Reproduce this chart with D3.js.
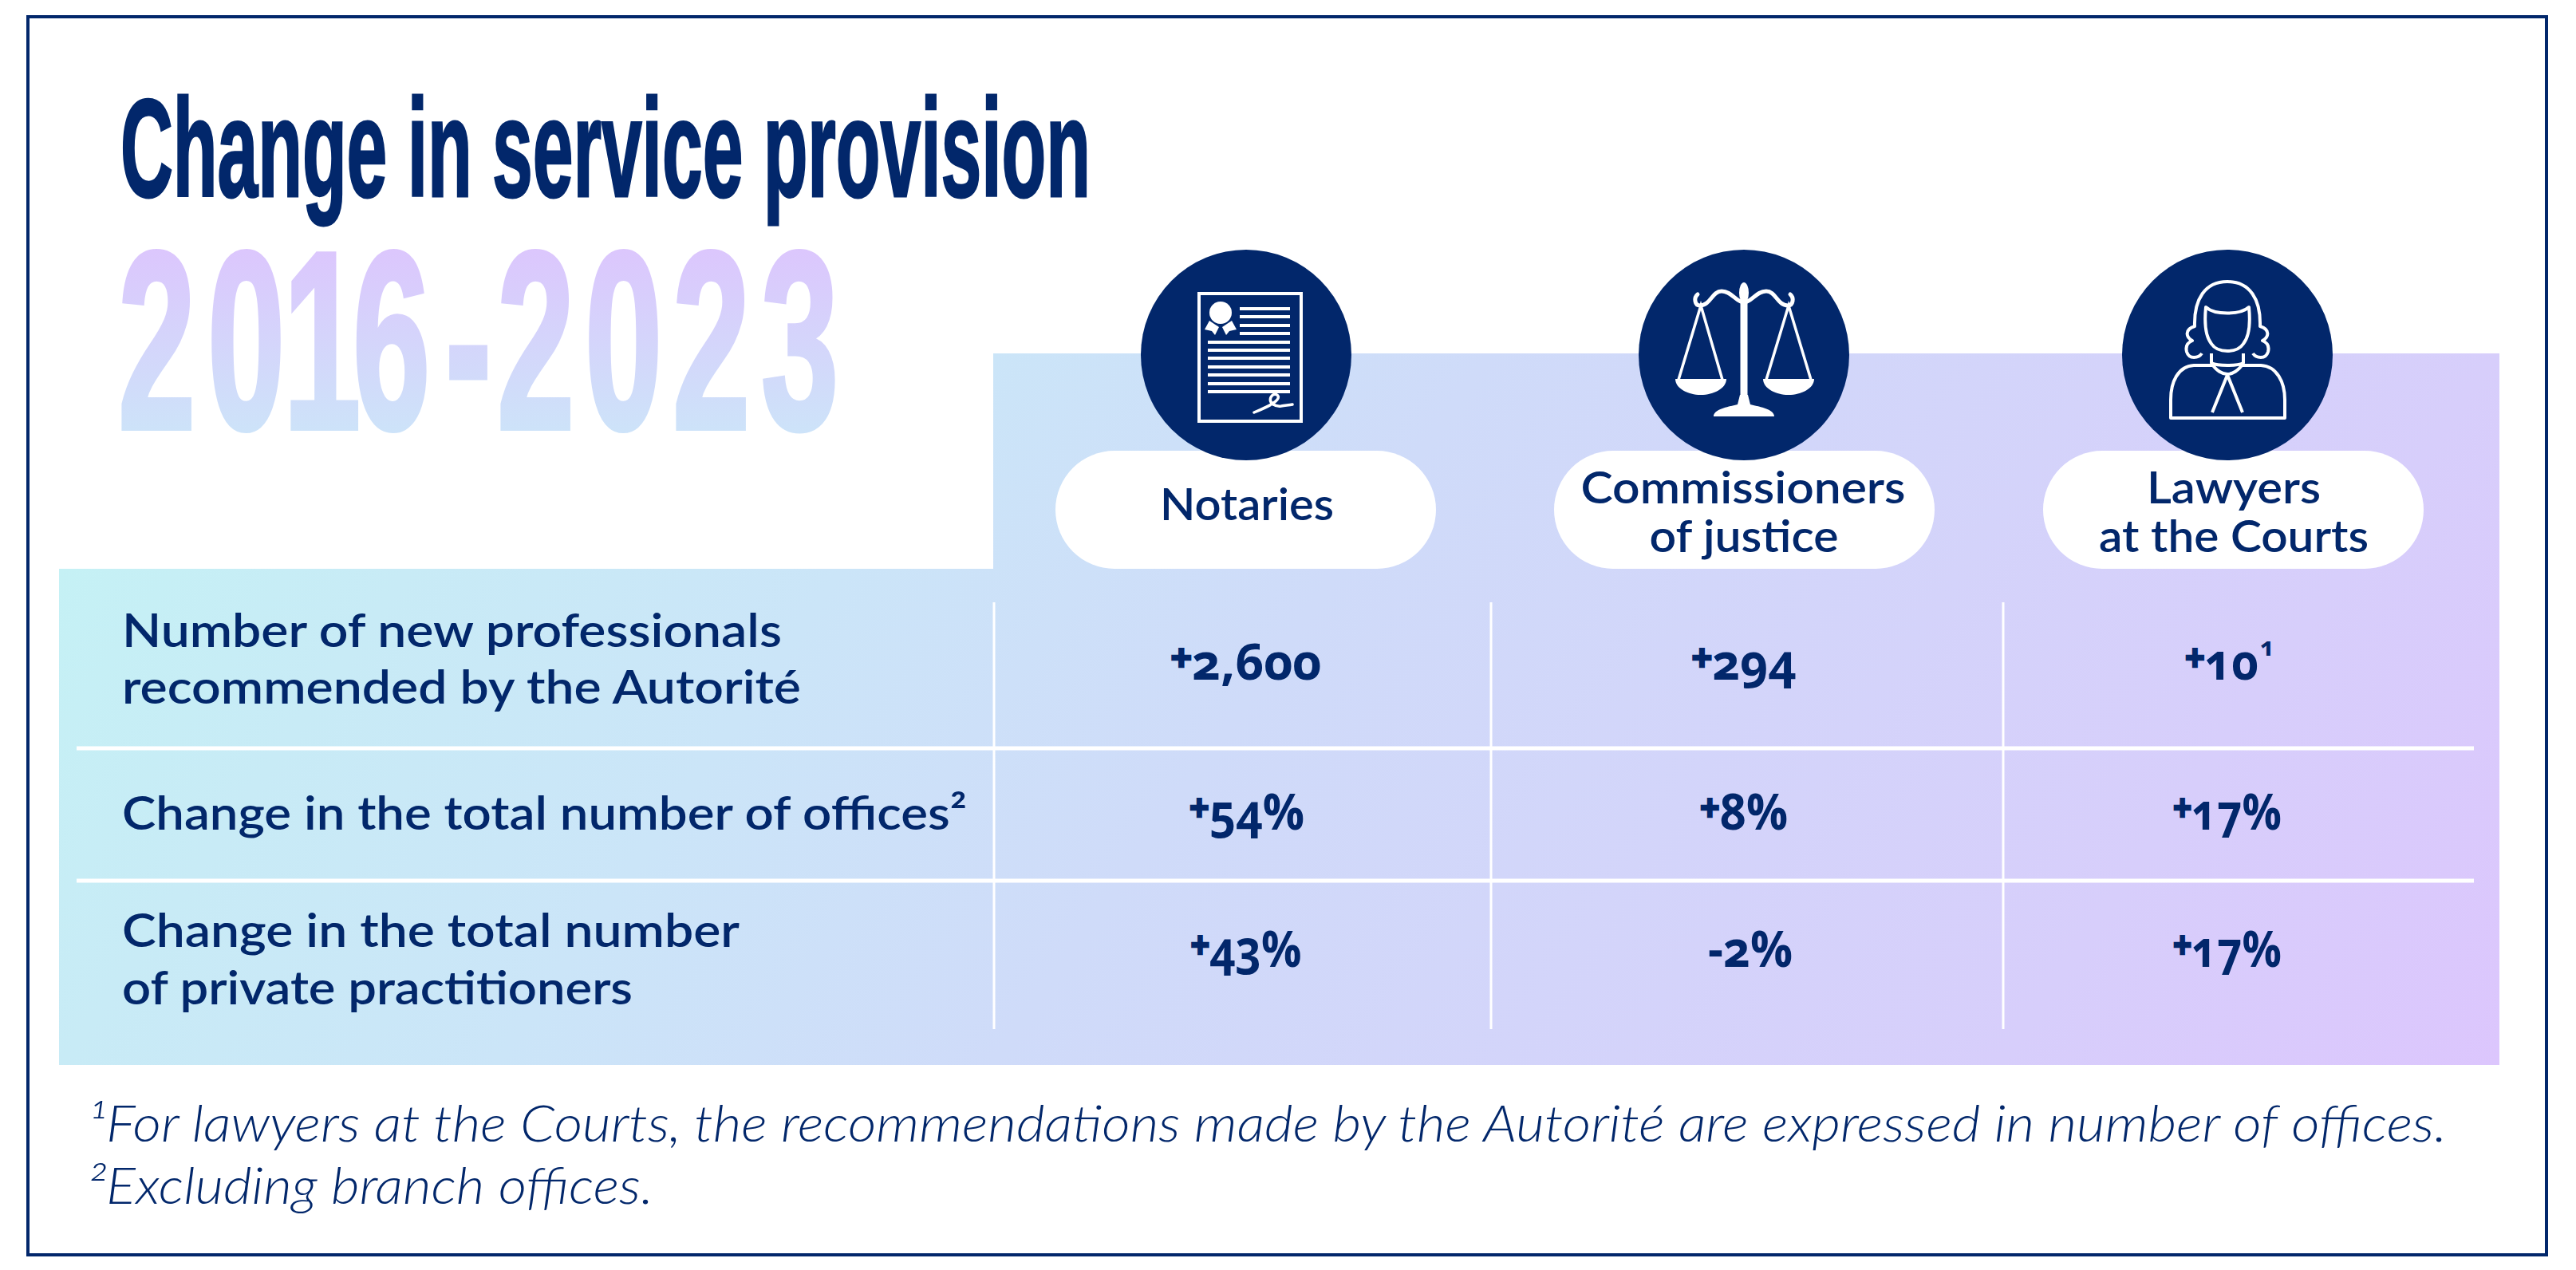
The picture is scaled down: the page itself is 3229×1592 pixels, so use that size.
<!DOCTYPE html>
<html>
<head>
<meta charset="utf-8">
<script src="https://cdn.jsdelivr.net/npm/d3@7"></script>
<style>
  html, body { margin: 0; padding: 0; background: #fff; }
  svg { display: block; }
  .label { font-family: Lato, sans-serif; font-weight: 600; fill: #02276b; }
  .value { font-family: "Open Sans", Lato, sans-serif; font-weight: 700; fill: #02276b; font-feature-settings: "onum" 1; }
  .note { font-family: Lato, sans-serif; font-weight: 300; font-style: italic; fill: #02276b; }
  .head { font-family: "Liberation Sans", sans-serif; font-weight: 700; }
</style>
</head>
<body>
<script>
var titleText = "Change in service provision";
var yearsText = "2016-2023";
var professions = [["Notaries"], ["Commissioners", "of justice"], ["Lawyers", "at the Courts"]];
var measures = [
  ["Number of new professionals", "recommended by the Autorité"],
  ["Change in the total number of offices²"],
  ["Change in the total number", "of private practitioners"]
];
var newProfessionals = ["+2,600", "+294", "+10"];
var officeChange = ["+54%", "+8%", "+17%"];
var practitionerChange = ["+43%", "-2%", "+17%"];
var footnotes = [
  "¹For lawyers at the Courts, the recommendations made by the Autorité are expressed in number of offices.",
  "²Excluding branch offices."
];

var navy = "#02276b";
var width = 3229, height = 1592;

var colX = d3.scaleOrdinal().domain([0, 1, 2]).range([1562, 2186, 2792]);
var rowBase = d3.scaleOrdinal().domain([0, 1, 2]).range([852, 1040, 1212]);

var svg = d3.select("body").append("svg")
  .attr("width", width)
  .attr("height", height);

var defs = svg.append("defs");

var panelGrad = defs.append("linearGradient")
  .attr("id", "panelGrad")
  .attr("gradientUnits", "userSpaceOnUse")
  .attr("x1", 263).attr("y1", 443)
  .attr("x2", 2609).attr("y2", 2085);
panelGrad.selectAll("stop")
  .data([[0, "#c5f1f5"], [0.125, "#c8ebf6"], [0.281, "#cbe5f8"], [0.459, "#cfdbf9"], [0.82, "#d7cefb"], [1, "#dcc6fd"]])
  .enter().append("stop")
    .attr("offset", function(d) { return d[0]; })
    .attr("stop-color", function(d) { return d[1]; });

var yearsGrad = defs.append("linearGradient")
  .attr("id", "yearsGrad")
  .attr("gradientUnits", "userSpaceOnUse")
  .attr("x1", 0).attr("y1", 309)
  .attr("x2", 0).attr("y2", 541);
yearsGrad.selectAll("stop")
  .data([[0, "#dcc6fd"], [1, "#cde3f9"]])
  .enter().append("stop")
    .attr("offset", function(d) { return d[0]; })
    .attr("stop-color", function(d) { return d[1]; });

// frame
svg.append("rect")
  .attr("x", 35).attr("y", 21)
  .attr("width", 3157).attr("height", 1552)
  .attr("fill", "none")
  .attr("stroke", navy)
  .attr("stroke-width", 4);

// heading
function fitted(sel, str, x, y, size, w) {
  return sel.append("text")
    .attr("x", x).attr("y", y)
    .attr("font-size", size)
    .attr("textLength", w)
    .attr("lengthAdjust", "spacingAndGlyphs")
    .text(str);
}

fitted(svg, titleText, 151, 246, 174, 1216)
  .attr("class", "head").attr("fill", navy)
  .attr("stroke", navy).attr("stroke-width", 3);

// years: one text, each glyph placed on its own, squeezed horizontally
var yearsSqueeze = 0.55;
var yearsLeft = [148, 260, 355, 442, 558, 623, 733, 843, 954];
svg.append("text")
  .attr("class", "head")
  .attr("transform", "scale(" + yearsSqueeze + ",1)")
  .attr("x", yearsLeft.map(function(d) { return d / yearsSqueeze; }).join(" "))
  .attr("y", 537)
  .attr("font-size", 318)
  .attr("fill", "url(#yearsGrad)")
  .attr("stroke", "url(#yearsGrad)").attr("stroke-width", 6)
  .text(yearsText);

// gradient panel
svg.append("path")
  .attr("d", "M74 713H1245V443H3133V1335H74Z")
  .attr("fill", "url(#panelGrad)");

// grid
var hLines = [938, 1104], vLines = [1246, 1869, 2511];
svg.selectAll(".hline").data(hLines).enter().append("line")
  .attr("x1", 96).attr("x2", 3101)
  .attr("y1", function(d) { return d; }).attr("y2", function(d) { return d; })
  .attr("stroke", "#fff").attr("stroke-width", 5);
svg.selectAll(".vline").data(vLines).enter().append("line")
  .attr("x1", function(d) { return d; }).attr("x2", function(d) { return d; })
  .attr("y1", 755).attr("y2", 1290)
  .attr("stroke", "#fff").attr("stroke-width", 3);

// pills
var pillLeft = [1323, 1948, 2561];
svg.selectAll(".pill").data(pillLeft).enter().append("rect")
  .attr("x", function(d) { return d; }).attr("y", 565)
  .attr("width", 477).attr("height", 148)
  .attr("rx", 74).attr("ry", 74)
  .attr("fill", "#fff");

// circles
svg.selectAll(".badge").data(professions).enter().append("circle")
  .attr("cx", function(d, i) { return colX(i); }).attr("cy", 445)
  .attr("r", 132)
  .attr("fill", navy);

// icon 1: deed
var deed = svg.append("g").attr("transform", "translate(" + colX(0) + ",445)");
deed.append("rect").attr("x", -59).attr("y", -77).attr("width", 128).attr("height", 160)
  .attr("fill", "none").attr("stroke", "#fff").attr("stroke-width", 4);
deed.append("circle").attr("cx", -32).attr("cy", -53).attr("r", 14).attr("fill", "#fff");
deed.append("path").attr("fill", "#fff")
  .attr("d", "M-46 -43L-34 -35L-39 -25L-43 -30L-52 -32ZM-18 -43L-30 -35L-25 -25L-21 -30L-12 -32Z");
var shortRules = [-58, -48, -37, -27], longRules = [-16, -6, 4, 15, 25, 36, 46];
deed.selectAll(".short").data(shortRules).enter().append("line")
  .attr("x1", -8).attr("x2", 55)
  .attr("y1", function(d) { return d; }).attr("y2", function(d) { return d; })
  .attr("stroke", "#fff").attr("stroke-width", 4);
deed.selectAll(".long").data(longRules).enter().append("line")
  .attr("x1", -48).attr("x2", 55)
  .attr("y1", function(d) { return d; }).attr("y2", function(d) { return d; })
  .attr("stroke", "#fff").attr("stroke-width", 4);
deed.append("path").attr("fill", "none").attr("stroke", "#fff").attr("stroke-width", 3.5).attr("stroke-linecap", "round")
  .attr("d", "M10 72C22 67 34 62 39 56C44 50 34 46 31 53C28 60 36 65 44 64C50 63 54 63 58 62");

// icon 2: scales
var scales = svg.append("g").attr("transform", "translate(" + colX(1) + ",445)");
scales.append("ellipse").attr("cx", 0).attr("cy", -78).attr("rx", 6).attr("ry", 13).attr("fill", "#fff");
scales.append("rect").attr("x", -4.5).attr("y", -70).attr("width", 9).attr("height", 125).attr("fill", "#fff");
scales.append("path").attr("fill", "#fff")
  .attr("d", "M-38 77C-38 68 -20 65 -8 62L-5 50L5 50L8 62C20 65 38 68 38 77Z");
scales.append("path").attr("fill", "none").attr("stroke", "#fff").attr("stroke-width", 5).attr("stroke-linecap", "round")
  .attr("d", "M0 -66C-10 -66 -15 -80 -28 -80C-40 -80 -42 -62 -55 -62C-62 -62 -63 -72 -58 -76M0 -66C10 -66 15 -80 28 -80C40 -80 42 -62 55 -62C62 -62 63 -72 58 -76");
scales.append("path").attr("fill", "none").attr("stroke", "#fff").attr("stroke-width", 3.5)
  .attr("d", "M-82 31L-54 -62L-27 31M28 31L56 -62L84 31");
scales.append("path").attr("fill", "#fff")
  .attr("d", "M-86 30H-22C-22 42 -38 50 -54 50C-70 50 -86 42 -86 30ZM24 30H88C88 42 72 50 56 50C40 50 24 42 24 30Z");

// icon 3: lawyer
var lawyer = svg.append("g").attr("transform", "translate(" + colX(2) + ",445)")
  .attr("fill", "none").attr("stroke", "#fff").attr("stroke-width", 4).attr("stroke-linejoin", "round");
lawyer.append("path")
  .attr("d", "M-32 -2C-36 4 -48 6 -51 -4C-53 -12 -49 -16 -44 -18C-52 -22 -54 -32 -41 -36C-42 -70 -28 -92 0 -92C28 -92 42 -70 41 -36C54 -32 52 -22 44 -18C49 -16 53 -12 51 -4C48 6 36 4 32 -2");
lawyer.append("path")
  .attr("d", "M-27 -60C-16 -50 16 -50 27 -60C29 -40 28 -24 20 -14C12 -2 -12 -2 -20 -14C-28 -24 -29 -40 -27 -60Z");
lawyer.append("path")
  .attr("d", "M-20 -2V10C-12 14 12 14 20 10V-2M-20 10C-14 20 -6 24 0 24C6 24 14 20 20 10");
lawyer.append("path")
  .attr("d", "M-18 13H-42C-62 14 -71 34 -71 56V79H72V56C72 34 62 14 42 13H18");
lawyer.append("path")
  .attr("d", "M0 25L-19 72M0 25L19 72");

// column heads
var headBase = { 1: [652], 2: [631, 692] };
var headWidth = [[218], [407, 237], [218, 338]];
var headMid = [[1563], [2185, 2186], [2800, 2800]];
professions.forEach(function(lines, c) {
  lines.forEach(function(line, l) {
    fitted(svg, line, headMid[c][l] - headWidth[c][l] / 2, headBase[lines.length][l], 55, headWidth[c][l]).attr("class", "label");
  });
});

// row labels
var labelBase = [[811, 882], [1040], [1187, 1259]];
var labelWidth = [[827, 851], [1059], [774, 640]];
measures.forEach(function(lines, r) {
  lines.forEach(function(line, l) {
    fitted(svg, line, 153, labelBase[r][l], 58, labelWidth[r][l]).attr("class", "label");
  });
});

// values, fitted to the width each one has in the picture
var valueWidth = [[189, 131, 92], [144, 110, 136], [139, 106, 136]];
var valueShift = [[0, 0, -7], [1, 0, 0], [0, 8, 0]];
function drawValue(str, col, row) {
  var t = svg.append("text")
    .attr("class", "value")
    .attr("x", colX(col) + valueShift[row][col]).attr("y", rowBase(row))
    .attr("text-anchor", "middle")
    .attr("font-size", 62)
    .attr("textLength", valueWidth[row][col])
    .attr("lengthAdjust", "spacingAndGlyphs");
  if (str[0] === "+") {
    t.append("tspan").attr("font-size", 46).attr("dy", -11)
      .attr("stroke", navy).attr("stroke-width", 2.5).text("+");
    t.append("tspan").attr("dy", 11).text(str.slice(1));
  } else {
    t.text(str);
  }
  return t;
}
[newProfessionals, officeChange, practitionerChange].forEach(function(row, r) {
  row.forEach(function(v, c) { drawValue(v, c, r); });
});
svg.append("text").attr("class", "value")
  .attr("x", 2833).attr("y", 822)
  .attr("font-size", 32).attr("font-weight", 500)
  .text("1");

// footnotes
fitted(svg, footnotes[0], 110, 1431, 63, 2957).attr("class", "note");
fitted(svg, footnotes[1], 110, 1509, 63, 709).attr("class", "note");
</script>
</body>
</html>
